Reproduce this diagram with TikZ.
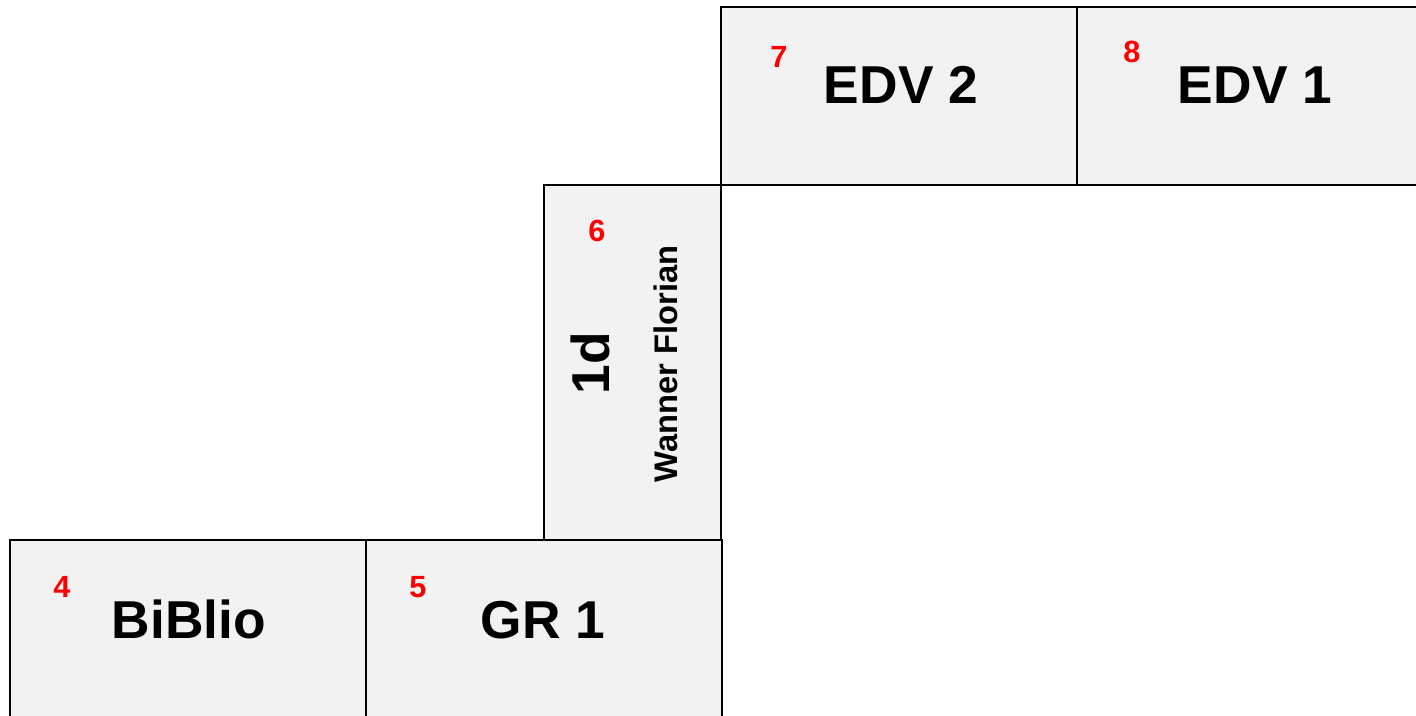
\documentclass[tikz,border=0pt]{standalone}
\usepackage{fontspec}
\setmainfont{Liberation Sans}
\usetikzlibrary{positioning}
\definecolor{roomgray}{HTML}{F2F2F2}

\begin{document}
\begin{tikzpicture}[x=0.75pt,y=-0.75pt,
    room/.style={draw,rectangle,fill=roomgray,line width=1.7pt,inner sep=0pt,outer sep=0pt,
      minimum width=267pt,minimum height=133.5pt,anchor=north west},
    roomname/.style={font=\bfseries\fontsize{40}{40}\selectfont,anchor=base,inner sep=0pt},
    roomnr/.style={text=red,font=\bfseries\fontsize{23}{23}\selectfont,anchor=base,inner sep=0pt}]
    \useasboundingbox (0,0) rectangle (1416,715);
    % rooms
    \node[room] (edv2) at (721,7) {};
    \node[room] (edv1) at (1077,7) {};
    \node[room,minimum width=132.75pt,minimum height=266.25pt] (c1d) at (544,185) {};
    \node[room] (biblio) at (10,540) {};
    \node[room] (gr1) at (366,540) {};
    % names
    \node[roomname] (edv2-name) at (901,103) {EDV 2};
    \node[roomname] (edv1-name) at (1255,103) {EDV 1};
    \node[roomname] (biblio-name) at (189,638) {BiBlio};
    \node[roomname] (gr1-name) at (543,638) {GR 1};
    \node[roomname,anchor=center,rotate=90] (c1d-name) at (590,363) {1d};
    \node[font=\bfseries\fontsize{24.5}{24.5}\selectfont,inner sep=0pt,rotate=90] (c1d-teacher) at (666,364) {Wanner Florian};
    % numbers
    \node[roomnr] (edv2-nr) at (779,67) {7};
    \node[roomnr] (edv1-nr) at (1132,62) {8};
    \node[roomnr] (biblio-nr) at (62,597) {4};
    \node[roomnr] (gr1-nr) at (418,597) {5};
    \node[roomnr] (c1d-nr) at (597,241) {6};
\end{tikzpicture}
\end{document}
